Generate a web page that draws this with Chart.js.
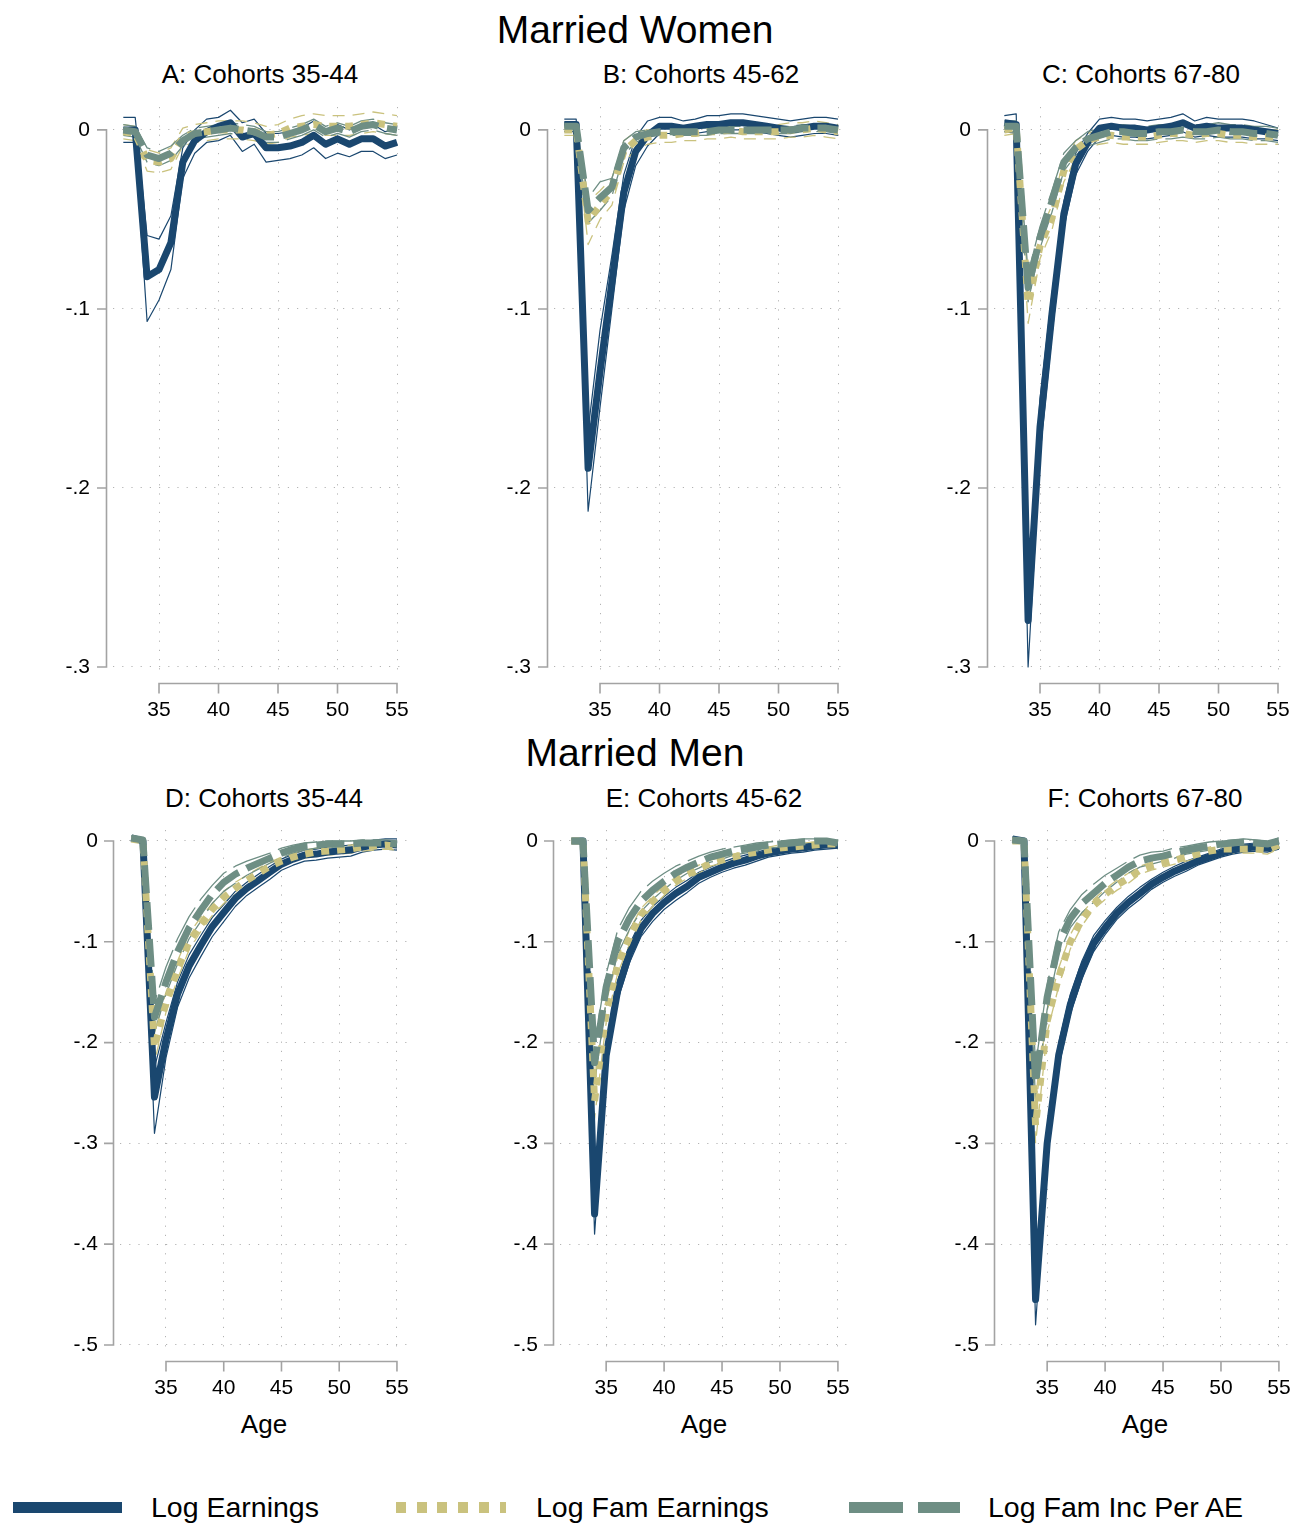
<!DOCTYPE html>
<html><head><meta charset="utf-8">
<script src="https://cdn.jsdelivr.net/npm/chart.js@4/dist/chart.umd.min.js"></script>
<style>
html,body{margin:0;padding:0;background:#fff;}
body{width:1299px;height:1524px;position:relative;overflow:hidden;font-family:'Liberation Sans',Arial,Helvetica,sans-serif;color:#000;}
.t{position:absolute;white-space:nowrap;transform:translateX(-50%);line-height:1;}
.lg{position:absolute;white-space:nowrap;line-height:1;font-size:28.5px;}
.sw{position:absolute;height:11px;}
canvas{position:absolute;}
</style></head><body>
<div class="t" style="left:635px;top:10px;font-size:39px;">Married Women</div>
<div class="t" style="left:635px;top:733px;font-size:39px;">Married Men</div>
<div class="t" style="left:260px;top:61px;font-size:26px;">A: Cohorts 35-44</div>
<div class="t" style="left:701px;top:61px;font-size:26px;">B: Cohorts 45-62</div>
<div class="t" style="left:1141px;top:61px;font-size:26px;">C: Cohorts 67-80</div>
<div class="t" style="left:264px;top:785px;font-size:26px;">D: Cohorts 35-44</div>
<div class="t" style="left:704px;top:785px;font-size:26px;">E: Cohorts 45-62</div>
<div class="t" style="left:1145px;top:785px;font-size:26px;">F: Cohorts 67-80</div>
<div class="t" style="left:264px;top:1411px;font-size:26px;">Age</div>
<div class="t" style="left:704px;top:1411px;font-size:26px;">Age</div>
<div class="t" style="left:1145px;top:1411px;font-size:26px;">Age</div>
<div class="sw" style="left:13px;top:1502px;width:109px;background:#1A476F;"></div>
<div class="lg" style="left:151px;top:1493px;">Log Earnings</div>
<div class="sw" style="left:396px;top:1502px;width:110px;background:repeating-linear-gradient(to right,#CAC27E 0 10px,transparent 10px 20.7px);"></div>
<div class="lg" style="left:536px;top:1493px;">Log Fam Earnings</div>
<div class="sw" style="left:849px;top:1502px;width:111px;background:repeating-linear-gradient(to right,#6E8E84 0 54px,transparent 54px 69px);"></div>
<div class="lg" style="left:988px;top:1493px;">Log Fam Inc Per AE</div>
<script>
// ---------------- DATA ----------------
const ages = [32,33,34,35,36,37,38,39,40,41,42,43,44,45,46,47,48,49,50,51,52,53,54,55];
const xTicks = [35,40,45,50,55];
const yTicksTop = [0,-0.1,-0.2,-0.3];
const yLabelsTop = ['0','-.1','-.2','-.3'];
const yTicksBot = [0,-0.1,-0.2,-0.3,-0.4,-0.5];
const yLabelsBot = ['0','-.1','-.2','-.3','-.4','-.5'];
const seriesNames = ['Log Earnings','Log Fam Earnings','Log Fam Inc Per AE'];
const panelTitles = ['A: Cohorts 35-44','B: Cohorts 45-62','C: Cohorts 67-80','D: Cohorts 35-44','E: Cohorts 45-62','F: Cohorts 67-80'];

// Panel A (women, cohorts 35-44)
const aEarn   = [0.000,0.000,-0.082,-0.078,-0.063,-0.018,-0.006,-0.001,0.002,0.004,-0.004,-0.002,-0.010,-0.010,-0.009,-0.007,-0.003,-0.008,-0.005,-0.008,-0.005,-0.005,-0.009,-0.007];
const aEarnHi = [0.007,0.007,-0.059,-0.061,-0.048,-0.010,0.000,0.006,0.007,0.011,0.004,0.006,-0.002,-0.002,-0.001,0.001,0.005,0.000,0.003,0.000,0.003,0.003,-0.001,0.000];
const aEarnLo = [-0.007,-0.007,-0.107,-0.095,-0.078,-0.027,-0.013,-0.007,-0.006,-0.003,-0.012,-0.008,-0.018,-0.017,-0.016,-0.014,-0.010,-0.016,-0.013,-0.015,-0.012,-0.012,-0.016,-0.014];
const aFam    = [-0.001,-0.002,-0.017,-0.018,-0.016,-0.004,-0.002,-0.001,0.000,0.000,0.000,-0.001,-0.003,-0.002,0.001,0.002,0.003,0.002,0.002,0.002,0.003,0.004,0.003,0.002];
const aFamHi  = [0.003,0.002,-0.011,-0.013,-0.010,0.001,0.003,0.004,0.005,0.005,0.005,0.004,0.002,0.003,0.006,0.008,0.009,0.008,0.008,0.008,0.009,0.010,0.009,0.008];
const aFamLo  = [-0.005,-0.006,-0.023,-0.024,-0.022,-0.009,-0.007,-0.006,-0.005,-0.005,-0.005,-0.006,-0.008,-0.007,-0.004,-0.003,-0.002,-0.003,-0.003,-0.003,-0.002,-0.001,-0.002,-0.003];
const aInc    = [0.000,-0.001,-0.014,-0.016,-0.013,-0.006,-0.002,-0.001,0.000,0.001,0.000,-0.001,-0.004,-0.004,-0.002,0.000,0.003,-0.001,0.001,-0.001,0.002,0.003,0.001,0.000];
const aIncHi  = [0.003,0.002,-0.010,-0.012,-0.009,-0.003,0.001,0.002,0.003,0.004,0.003,0.002,-0.001,-0.001,0.001,0.003,0.006,0.002,0.004,0.002,0.005,0.006,0.004,0.003];
const aIncLo  = [-0.003,-0.004,-0.018,-0.020,-0.017,-0.009,-0.005,-0.004,-0.003,-0.002,-0.003,-0.004,-0.007,-0.007,-0.005,-0.003,0.000,-0.004,-0.002,-0.004,-0.001,0.000,-0.002,-0.003];

// Panel B (women, cohorts 45-62)
const bEarn   = [0.003,0.003,-0.189,-0.135,-0.085,-0.035,-0.012,-0.003,0.002,0.002,0.001,0.002,0.003,0.003,0.004,0.004,0.003,0.002,0.001,0.000,0.001,0.002,0.002,0.001];
const bEarnHi = [0.006,0.006,-0.168,-0.112,-0.070,-0.025,-0.004,0.005,0.007,0.007,0.005,0.006,0.008,0.008,0.009,0.009,0.008,0.007,0.006,0.005,0.006,0.007,0.007,0.006];
const bEarnLo = [-0.001,-0.001,-0.213,-0.155,-0.100,-0.045,-0.020,-0.009,-0.002,-0.002,-0.003,-0.002,-0.001,-0.001,0.000,0.000,-0.001,-0.002,-0.003,-0.004,-0.003,-0.002,-0.002,-0.003];
const bFam    = [0.000,0.000,-0.051,-0.042,-0.034,-0.012,-0.006,-0.004,-0.003,-0.003,-0.002,-0.002,-0.001,-0.001,0.000,-0.001,-0.001,-0.001,-0.001,0.000,0.000,0.001,0.000,-0.001];
const bFamHi  = [0.003,0.003,-0.040,-0.034,-0.027,-0.006,-0.001,0.000,0.001,0.001,0.002,0.002,0.003,0.003,0.004,0.003,0.003,0.003,0.003,0.004,0.004,0.005,0.004,0.003];
const bFamLo  = [-0.003,-0.003,-0.064,-0.050,-0.042,-0.018,-0.011,-0.008,-0.007,-0.007,-0.006,-0.006,-0.005,-0.005,-0.004,-0.005,-0.005,-0.005,-0.005,-0.004,-0.004,-0.003,-0.004,-0.005];
const bInc    = [0.002,0.002,-0.045,-0.038,-0.032,-0.010,-0.004,-0.002,-0.001,-0.001,-0.001,-0.001,-0.001,0.000,0.000,0.000,0.000,0.000,0.000,0.000,0.001,0.001,0.001,0.000];
const bIncHi  = [0.004,0.004,-0.038,-0.029,-0.027,-0.006,-0.001,0.000,0.001,0.001,0.001,0.001,0.001,0.002,0.002,0.002,0.002,0.002,0.002,0.002,0.003,0.003,0.003,0.002];
const bIncLo  = [0.000,0.000,-0.052,-0.045,-0.037,-0.014,-0.007,-0.004,-0.003,-0.003,-0.003,-0.003,-0.003,-0.002,-0.002,-0.002,-0.002,-0.002,-0.002,-0.002,-0.001,-0.001,-0.001,-0.002];

// Panel C (women, cohorts 67-80)
const cEarn   = [0.004,0.003,-0.274,-0.166,-0.103,-0.047,-0.019,-0.007,0.001,0.002,0.001,0.001,0.000,0.001,0.002,0.004,0.001,0.002,0.001,0.001,0.001,0.000,-0.001,-0.002];
const cEarnHi = [0.008,0.009,-0.255,-0.150,-0.092,-0.040,-0.013,-0.002,0.006,0.007,0.006,0.006,0.005,0.006,0.007,0.009,0.005,0.007,0.006,0.006,0.006,0.005,0.003,0.001];
const cEarnLo = [-0.001,-0.002,-0.300,-0.182,-0.115,-0.055,-0.025,-0.012,-0.004,-0.003,-0.004,-0.004,-0.005,-0.004,-0.003,-0.001,-0.004,-0.003,-0.004,-0.004,-0.004,-0.005,-0.005,-0.006];
const cFam    = [0.000,0.001,-0.097,-0.065,-0.049,-0.023,-0.011,-0.006,-0.004,-0.003,-0.004,-0.004,-0.004,-0.003,-0.002,-0.002,-0.003,-0.002,-0.002,-0.003,-0.003,-0.004,-0.004,-0.004];
const cFamHi  = [0.003,0.004,-0.086,-0.058,-0.042,-0.017,-0.006,-0.002,0.000,0.001,0.000,0.000,0.000,0.001,0.002,0.002,0.001,0.002,0.002,0.001,0.001,0.000,0.000,0.000];
const cFamLo  = [-0.003,-0.002,-0.108,-0.072,-0.056,-0.029,-0.016,-0.010,-0.008,-0.007,-0.008,-0.008,-0.008,-0.007,-0.006,-0.006,-0.007,-0.006,-0.006,-0.007,-0.007,-0.008,-0.008,-0.008];
const cInc    = [0.002,0.002,-0.088,-0.060,-0.040,-0.018,-0.010,-0.005,-0.003,-0.001,-0.001,-0.002,-0.002,-0.001,-0.001,0.000,-0.001,-0.001,0.000,-0.001,-0.001,-0.002,-0.002,-0.003];
const cIncHi  = [0.005,0.005,-0.080,-0.054,-0.034,-0.013,-0.006,-0.001,0.001,0.003,0.003,0.002,0.002,0.003,0.003,0.004,0.003,0.003,0.004,0.003,0.003,0.002,0.002,0.001];
const cIncLo  = [-0.001,-0.001,-0.096,-0.066,-0.046,-0.023,-0.014,-0.009,-0.007,-0.005,-0.005,-0.006,-0.006,-0.005,-0.005,-0.004,-0.005,-0.005,-0.004,-0.005,-0.005,-0.006,-0.006,-0.007];

// Panel D (men, cohorts 35-44)
const dEarn   = [0.003,0.000,-0.254,-0.197,-0.152,-0.124,-0.104,-0.085,-0.071,-0.057,-0.047,-0.039,-0.031,-0.023,-0.018,-0.014,-0.013,-0.011,-0.010,-0.009,-0.006,-0.004,-0.003,-0.004];
const dEarnHi = [0.005,0.002,-0.225,-0.180,-0.140,-0.113,-0.094,-0.076,-0.063,-0.050,-0.041,-0.033,-0.025,-0.018,-0.013,-0.009,-0.008,-0.006,-0.005,-0.004,-0.001,0.001,0.002,0.002];
const dEarnLo = [0.001,-0.002,-0.290,-0.215,-0.165,-0.136,-0.115,-0.095,-0.080,-0.065,-0.054,-0.046,-0.038,-0.029,-0.024,-0.020,-0.019,-0.017,-0.016,-0.015,-0.011,-0.009,-0.008,-0.009];
const dFam    = [0.002,0.000,-0.205,-0.160,-0.128,-0.100,-0.083,-0.068,-0.056,-0.047,-0.039,-0.032,-0.025,-0.020,-0.016,-0.013,-0.011,-0.010,-0.009,-0.008,-0.006,-0.005,-0.004,-0.005];
const dFamHi  = [0.004,0.002,-0.190,-0.150,-0.119,-0.092,-0.076,-0.062,-0.050,-0.041,-0.034,-0.027,-0.021,-0.016,-0.012,-0.009,-0.007,-0.006,-0.005,-0.004,-0.002,-0.001,0.000,-0.001];
const dFamLo  = [0.000,-0.002,-0.220,-0.170,-0.137,-0.108,-0.090,-0.074,-0.062,-0.053,-0.044,-0.037,-0.029,-0.024,-0.020,-0.017,-0.015,-0.014,-0.013,-0.012,-0.010,-0.009,-0.008,-0.009];
const dInc    = [0.003,0.001,-0.175,-0.140,-0.110,-0.086,-0.069,-0.053,-0.041,-0.033,-0.027,-0.022,-0.017,-0.012,-0.008,-0.005,-0.004,-0.003,-0.003,-0.003,-0.002,-0.002,-0.002,-0.003];
const dIncHi  = [0.005,0.003,-0.160,-0.125,-0.097,-0.075,-0.058,-0.044,-0.032,-0.025,-0.020,-0.016,-0.012,-0.007,-0.004,-0.002,-0.001,0.000,0.000,0.000,0.001,0.001,0.001,0.000];
const dIncLo  = [0.001,-0.001,-0.190,-0.152,-0.122,-0.097,-0.080,-0.062,-0.050,-0.042,-0.034,-0.028,-0.022,-0.017,-0.012,-0.009,-0.007,-0.006,-0.006,-0.006,-0.005,-0.005,-0.005,-0.006];

// Panel E (men, cohorts 45-62)
const eEarn   = [0.000,0.000,-0.370,-0.213,-0.148,-0.112,-0.087,-0.072,-0.061,-0.052,-0.045,-0.036,-0.031,-0.026,-0.022,-0.019,-0.015,-0.012,-0.010,-0.008,-0.007,-0.005,-0.004,-0.004];
const eEarnHi = [0.002,0.002,-0.350,-0.200,-0.138,-0.103,-0.079,-0.065,-0.055,-0.046,-0.039,-0.031,-0.026,-0.021,-0.017,-0.014,-0.011,-0.008,-0.006,-0.004,-0.003,-0.002,-0.001,-0.001];
const eEarnLo = [-0.002,-0.002,-0.390,-0.226,-0.158,-0.121,-0.095,-0.080,-0.068,-0.059,-0.051,-0.042,-0.036,-0.031,-0.027,-0.024,-0.020,-0.016,-0.014,-0.012,-0.011,-0.009,-0.008,-0.007];
const eFam    = [0.000,0.000,-0.258,-0.170,-0.123,-0.096,-0.073,-0.060,-0.049,-0.040,-0.033,-0.028,-0.022,-0.019,-0.016,-0.013,-0.011,-0.009,-0.007,-0.006,-0.005,-0.004,-0.003,-0.003];
const eFamHi  = [0.002,0.002,-0.240,-0.160,-0.115,-0.089,-0.067,-0.055,-0.044,-0.036,-0.029,-0.024,-0.019,-0.016,-0.013,-0.010,-0.008,-0.006,-0.004,-0.003,-0.002,-0.001,0.000,0.000];
const eFamLo  = [-0.002,-0.002,-0.275,-0.180,-0.131,-0.103,-0.079,-0.065,-0.054,-0.044,-0.037,-0.032,-0.025,-0.022,-0.019,-0.016,-0.014,-0.012,-0.010,-0.009,-0.008,-0.007,-0.006,-0.006];
const eInc    = [0.000,0.000,-0.220,-0.145,-0.100,-0.077,-0.060,-0.049,-0.040,-0.032,-0.026,-0.021,-0.016,-0.013,-0.010,-0.008,-0.006,-0.004,-0.003,-0.002,-0.001,0.000,0.000,-0.002];
const eIncHi  = [0.002,0.002,-0.200,-0.132,-0.088,-0.066,-0.050,-0.040,-0.032,-0.025,-0.020,-0.015,-0.011,-0.008,-0.006,-0.004,-0.002,-0.001,0.000,0.001,0.002,0.002,0.002,0.000];
const eIncLo  = [-0.002,-0.002,-0.240,-0.158,-0.112,-0.088,-0.070,-0.058,-0.048,-0.039,-0.032,-0.027,-0.021,-0.018,-0.014,-0.012,-0.010,-0.007,-0.006,-0.005,-0.004,-0.002,-0.002,-0.004];

// Panel F (men, cohorts 67-80)
const fEarn   = [0.002,0.000,-0.455,-0.300,-0.212,-0.162,-0.128,-0.102,-0.086,-0.072,-0.061,-0.052,-0.043,-0.036,-0.030,-0.025,-0.020,-0.016,-0.012,-0.009,-0.007,-0.006,-0.007,-0.004];
const fEarnHi = [0.004,0.002,-0.430,-0.285,-0.200,-0.152,-0.119,-0.094,-0.079,-0.066,-0.055,-0.046,-0.038,-0.031,-0.025,-0.020,-0.016,-0.012,-0.008,-0.005,-0.003,-0.002,-0.003,0.000];
const fEarnLo = [0.000,-0.002,-0.480,-0.315,-0.224,-0.172,-0.137,-0.110,-0.093,-0.078,-0.067,-0.058,-0.048,-0.041,-0.035,-0.030,-0.024,-0.020,-0.016,-0.013,-0.011,-0.010,-0.011,-0.008];
const fFam    = [0.000,0.000,-0.282,-0.179,-0.135,-0.100,-0.078,-0.063,-0.053,-0.044,-0.037,-0.029,-0.025,-0.022,-0.019,-0.016,-0.013,-0.010,-0.008,-0.008,-0.008,-0.008,-0.009,-0.004];
const fFamHi  = [0.002,0.002,-0.265,-0.168,-0.126,-0.093,-0.072,-0.058,-0.048,-0.039,-0.032,-0.025,-0.021,-0.018,-0.015,-0.012,-0.009,-0.006,-0.004,-0.004,-0.004,-0.004,-0.005,0.000];
const fFamLo  = [-0.002,-0.002,-0.300,-0.190,-0.144,-0.107,-0.084,-0.068,-0.058,-0.049,-0.042,-0.033,-0.029,-0.026,-0.023,-0.020,-0.017,-0.014,-0.012,-0.012,-0.012,-0.012,-0.013,-0.008];
const fInc    = [0.001,0.000,-0.240,-0.155,-0.101,-0.077,-0.062,-0.052,-0.042,-0.034,-0.026,-0.020,-0.017,-0.015,-0.012,-0.009,-0.007,-0.005,-0.003,-0.002,-0.001,-0.002,-0.003,0.000];
const fIncHi  = [0.003,0.002,-0.222,-0.143,-0.090,-0.068,-0.053,-0.043,-0.034,-0.027,-0.020,-0.014,-0.011,-0.010,-0.007,-0.005,-0.003,-0.001,0.000,0.001,0.002,0.001,0.000,0.003];
const fIncLo  = [-0.001,-0.002,-0.258,-0.167,-0.112,-0.086,-0.071,-0.061,-0.050,-0.041,-0.032,-0.026,-0.023,-0.020,-0.017,-0.013,-0.011,-0.009,-0.006,-0.005,-0.004,-0.005,-0.006,-0.003];

// ---------------- RENDER ----------------
const FONT = "'Liberation Sans', Arial, Helvetica, sans-serif";
const C_EARN = '#1A476F', C_FAM = '#CAC27E', C_INC = '#6E8E84';
const AXIS_COLOR = '#a3a3a3', GRID_COLOR = '#b3b3b3';

function pts(arr){ return ages.map((a,i)=>({x:a, y:arr[i]})); }

function makePanel(rect, xr, yr, yTicks, yLabels, s, labelPad){
  const padL = 70, padT = 10, padR = 12, padB = 80;
  const w = rect.R - rect.L + padL + padR, h = rect.B - rect.T + padT + padB;
  const cv = document.createElement('canvas');
  cv.width = w; cv.height = h;
  cv.style.left = (rect.L - padL) + 'px'; cv.style.top = (rect.T - padT) + 'px';
  cv.style.width = w + 'px'; cv.style.height = h + 'px';
  document.body.appendChild(cv);

  const base = {pointRadius:0, pointHoverRadius:0, tension:0, fill:false, borderJoinStyle:'round', borderCapStyle:'butt'};
  const datasets = [
    {label:seriesNames[2], data:pts(s.inc), borderColor:C_INC, borderWidth:7, borderDash:[28,9]},
    {label:seriesNames[1], data:pts(s.fam), borderColor:C_FAM, borderWidth:7, borderDash:[8,8]},
    {label:seriesNames[0], data:pts(s.earn), borderColor:C_EARN, borderWidth:7},
    {label:'incHi', data:pts(s.incHi), borderColor:C_INC, borderWidth:1.3, borderDash:[40,8]},
    {label:'incLo', data:pts(s.incLo), borderColor:C_INC, borderWidth:1.3, borderDash:[40,8]},
    {label:'famHi', data:pts(s.famHi), borderColor:C_FAM, borderWidth:1.3, borderDash:[12,8]},
    {label:'famLo', data:pts(s.famLo), borderColor:C_FAM, borderWidth:1.3, borderDash:[12,8]},
    {label:'earnHi', data:pts(s.earnHi), borderColor:C_EARN, borderWidth:1.2},
    {label:'earnLo', data:pts(s.earnLo), borderColor:C_EARN, borderWidth:1.2}
  ].map(d => Object.assign({}, base, d));

  const axesPlugin = {
    id:'stataAxes',
    afterDraw(chart){
      const ctx = chart.ctx, ca = chart.chartArea, x = chart.scales.x, y = chart.scales.y;
      ctx.save();
      ctx.strokeStyle = AXIS_COLOR; ctx.lineWidth = 1.6; ctx.setLineDash([]);
      const ax = Math.round(ca.left - 7) + 0.5;
      const yA = y.getPixelForValue(yTicks[0]), yB = y.getPixelForValue(yTicks[yTicks.length-1]);
      ctx.beginPath();
      ctx.moveTo(ax, yA - 0.8); ctx.lineTo(ax, yB + 0.8);
      yTicks.forEach(v => { const p = y.getPixelForValue(v); ctx.moveTo(ax, p); ctx.lineTo(ax - 9.5, p); });
      const ay = Math.round(ca.bottom + 11) + 0.5;
      const xA = x.getPixelForValue(xTicks[0]), xB = x.getPixelForValue(xTicks[xTicks.length-1]);
      ctx.moveTo(xA - 0.8, ay); ctx.lineTo(xB + 0.8, ay);
      xTicks.forEach(v => { const p = x.getPixelForValue(v); ctx.moveTo(p, ay); ctx.lineTo(p, ay + 10); });
      ctx.stroke();
      ctx.restore();
    }
  };

  const zeroPad = sc => { sc.paddingTop = 0; sc.paddingBottom = 0; sc.paddingLeft = 0; sc.paddingRight = 0; };

  new Chart(cv, {
    type:'line',
    data:{datasets},
    options:{
      responsive:false, animation:false, events:[],
      layout:{padding:{left:0, top:padT, right:padR, bottom:0}},
      plugins:{legend:{display:false}, tooltip:{enabled:false}, title:{display:false}},
      scales:{
        x:{type:'linear', min:xr[0], max:xr[1],
           afterBuildTicks: sc => { sc.ticks = xTicks.map(v => ({value:v})); },
           afterFit: sc => { sc.height = padB; zeroPad(sc); },
           grid:{color:GRID_COLOR, lineWidth:1, drawTicks:false},
           border:{display:false, dash:[1.2,8]},
           ticks:{padding:26, color:'#000', font:{family:FONT, size:21}, maxRotation:0, autoSkip:false,
                  callback:(v,i) => String(xTicks[i])}},
        y:{type:'linear', min:yr[0], max:yr[1],
           afterBuildTicks: sc => { sc.ticks = yTicks.map(v => ({value:v})); },
           afterFit: sc => { sc.width = padL; zeroPad(sc); },
           grid:{color:GRID_COLOR, lineWidth:1, drawTicks:false},
           border:{display:false, dash:[1.2,8]},
           ticks:{padding:labelPad, color:'#000', font:{family:FONT, size:21}, autoSkip:false,
                  callback:(v,i) => yLabels[i]}}
      }
    },
    plugins:[axesPlugin]
  });
}

const xrTop = [31.134, 55.84], xrBot = [31.017, 55.87];
const yrTop = [-0.3028, 0.0128], yrBot = [-0.505, 0.0109];

makePanel({L:113, T:107, R:407, B:672}, xrTop, yrTop, yTicksTop, yLabelsTop,
  {earn:aEarn, earnHi:aEarnHi, earnLo:aEarnLo, fam:aFam, famHi:aFamHi, famLo:aFamLo, inc:aInc, incHi:aIncHi, incLo:aIncLo}, 23);
makePanel({L:554, T:107, R:848, B:672}, xrTop, yrTop, yTicksTop, yLabelsTop,
  {earn:bEarn, earnHi:bEarnHi, earnLo:bEarnLo, fam:bFam, famHi:bFamHi, famLo:bFamLo, inc:bInc, incHi:bIncHi, incLo:bIncLo}, 23);
makePanel({L:994, T:107, R:1288, B:672}, xrTop, yrTop, yTicksTop, yLabelsTop,
  {earn:cEarn, earnHi:cEarnHi, earnLo:cEarnLo, fam:cFam, famHi:cFamHi, famLo:cFamLo, inc:cInc, incHi:cIncHi, incLo:cIncLo}, 23);
makePanel({L:120, T:830, R:407, B:1350}, xrBot, yrBot, yTicksBot, yLabelsBot,
  {earn:dEarn, earnHi:dEarnHi, earnLo:dEarnLo, fam:dFam, famHi:dFamHi, famLo:dFamLo, inc:dInc, incHi:dIncHi, incLo:dIncLo}, 22);
makePanel({L:560, T:830, R:848, B:1350}, xrBot, yrBot, yTicksBot, yLabelsBot,
  {earn:eEarn, earnHi:eEarnHi, earnLo:eEarnLo, fam:eFam, famHi:eFamHi, famLo:eFamLo, inc:eInc, incHi:eIncHi, incLo:eIncLo}, 22);
makePanel({L:1001, T:830, R:1289, B:1350}, xrBot, yrBot, yTicksBot, yLabelsBot,
  {earn:fEarn, earnHi:fEarnHi, earnLo:fEarnLo, fam:fFam, famHi:fFamHi, famLo:fFamLo, inc:fInc, incHi:fIncHi, incLo:fIncLo}, 22);
</script>
</body></html>
